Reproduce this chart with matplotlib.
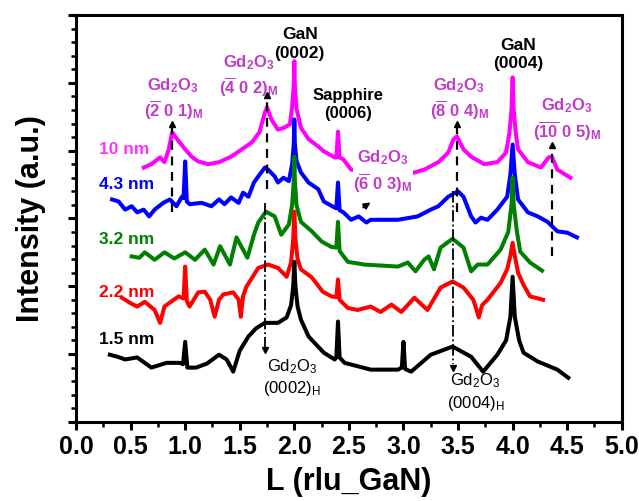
import numpy as np
import matplotlib
matplotlib.use('Agg')
import matplotlib.pyplot as plt

plt.rcParams['font.family'] = ['Liberation Sans', 'DejaVu Sans']
plt.rcParams['mathtext.default'] = 'regular'

# ---- data (L in rlu_GaN, intensity offset a.u.) ----
L_black = [0.31, 0.38, 0.45, 0.56, 0.69, 0.83, 0.95, 0.98, 1.00, 1.02, 1.10, 1.20, 1.31, 1.38,
           1.44, 1.50, 1.58, 1.65, 1.73, 1.85, 1.93, 1.97, 1.99, 2.00, 2.01, 2.03, 2.06, 2.13,
           2.27, 2.37, 2.385, 2.40, 2.415, 2.46, 2.70, 2.95, 2.985, 3.00, 3.015, 3.07, 3.25,
           3.45, 3.62, 3.73, 3.86, 3.94, 3.98, 4.00, 4.02, 4.06, 4.10, 4.23, 4.41, 4.51]
I_black = [0.99, 0.96, 0.92, 0.95, 0.80, 0.87, 0.87, 0.85, 1.18, 0.80, 0.80, 0.86, 0.99, 0.92,
           0.74, 1.05, 1.26, 1.38, 1.46, 1.46, 1.54, 1.72, 2.00, 2.36, 2.00, 1.70, 1.51, 1.26,
           1.02, 0.92, 0.95, 1.48, 0.95, 0.87, 0.77, 0.77, 0.80, 1.18, 0.78, 0.74, 0.99,
           1.11, 0.96, 0.74, 0.99, 1.20, 1.55, 2.14, 1.55, 1.20, 1.02, 0.89, 0.77, 0.65]

L_red = [0.42, 0.50, 0.56, 0.63, 0.72, 0.77, 0.81, 0.86, 0.94, 0.985, 1.00, 1.015, 1.04, 1.12,
         1.18, 1.23, 1.27, 1.31, 1.35, 1.44, 1.49, 1.51, 1.53, 1.56, 1.67, 1.76, 1.85, 1.93,
         1.97, 1.99, 2.00, 2.01, 2.03, 2.06, 2.16, 2.26, 2.34, 2.385, 2.40, 2.415, 2.49, 2.58,
         2.70, 2.79, 2.89, 2.98, 3.10, 3.22, 3.34, 3.45, 3.55, 3.64, 3.67, 3.69, 3.72, 3.77,
         3.89, 3.95, 3.98, 4.00, 4.02, 4.05, 4.10, 4.16, 4.28]
I_red = [1.83, 1.75, 1.70, 1.77, 1.65, 1.46, 1.70, 1.76, 1.85, 1.82, 2.29, 1.78, 1.70, 1.91,
         1.92, 1.80, 1.55, 1.80, 1.88, 1.91, 1.80, 1.55, 1.85, 1.99, 2.27, 2.32, 2.27, 2.14,
         2.35, 2.70, 3.10, 2.70, 2.40, 2.25, 2.13, 1.92, 1.85, 1.84, 2.10, 1.80, 1.68, 1.65,
         1.70, 1.62, 1.73, 1.62, 1.83, 1.65, 1.98, 2.07, 1.98, 1.80, 1.65, 1.54, 1.72, 1.80,
         2.05, 2.25, 2.45, 2.64, 2.45, 2.20, 2.02, 1.85, 1.80]

L_green = [0.51, 0.58, 0.63, 0.72, 0.81, 0.90, 1.00, 1.09, 1.18, 1.26, 1.32, 1.41, 1.47, 1.57,
           1.63, 1.67, 1.74, 1.82, 1.88, 1.95, 1.98, 1.995, 2.00, 2.005, 2.02, 2.06, 2.16, 2.25,
           2.34, 2.385, 2.40, 2.415, 2.49, 2.64, 2.95, 3.04, 3.11, 3.19, 3.23, 3.28, 3.34, 3.45,
           3.55, 3.62, 3.68, 3.77, 3.89, 3.96, 3.99, 4.00, 4.01, 4.04, 4.07, 4.16, 4.27]
I_green = [2.44, 2.42, 2.50, 2.39, 2.50, 2.41, 2.50, 2.39, 2.54, 2.32, 2.59, 2.32, 2.72, 2.42,
           2.76, 2.94, 3.10, 3.03, 2.76, 2.91, 3.20, 3.55, 3.91, 3.55, 3.20, 2.95, 2.81, 2.66,
           2.58, 2.57, 2.95, 2.52, 2.36, 2.32, 2.29, 2.35, 2.22, 2.39, 2.44, 2.25, 2.57, 2.70,
           2.57, 2.22, 2.32, 2.32, 2.54, 2.80, 3.20, 3.60, 3.20, 2.80, 2.51, 2.35, 2.23]

L_blue = [0.33, 0.39, 0.45, 0.51, 0.56, 0.62, 0.67, 0.72, 0.80, 0.86, 0.92, 0.97, 0.985, 1.00,
          1.015, 1.04, 1.15, 1.24, 1.31, 1.36, 1.42, 1.49, 1.53, 1.58, 1.63, 1.67, 1.73, 1.76,
          1.82, 1.85, 1.90, 1.95, 1.98, 1.995, 2.00, 2.005, 2.02, 2.06, 2.13, 2.22, 2.27, 2.37,
          2.385, 2.40, 2.415, 2.45, 2.52, 2.59, 2.66, 2.70, 2.95, 3.13, 3.25, 3.32, 3.41, 3.50,
          3.55, 3.62, 3.66, 3.71, 3.77, 3.86, 3.95, 3.98, 4.00, 4.02, 4.05, 4.14, 4.23, 4.32,
          4.41, 4.50, 4.59]
I_blue = [3.28, 3.25, 3.13, 3.18, 3.09, 3.13, 3.03, 3.13, 3.23, 3.28, 3.18, 3.32, 3.30, 3.84,
          3.25, 3.21, 3.23, 3.18, 3.28, 3.21, 3.31, 3.23, 3.38, 3.32, 3.53, 3.62, 3.75, 3.72,
          3.62, 3.53, 3.60, 3.55, 3.80, 4.10, 4.46, 4.10, 3.85, 3.68, 3.53, 3.43, 3.25, 3.16,
          3.15, 3.53, 3.12, 3.09, 2.98, 3.03, 2.94, 2.98, 2.98, 3.03, 3.13, 3.18, 3.32, 3.40,
          3.32, 3.03, 2.94, 3.01, 2.98, 3.13, 3.32, 3.65, 4.09, 3.65, 3.28, 3.09, 3.03, 2.95,
          2.81, 2.79, 2.72]

L_mag = [0.62, 0.69, 0.77, 0.81, 0.85, 0.88, 0.94, 1.00, 1.06, 1.12, 1.21, 1.31, 1.42, 1.52,
         1.61, 1.68, 1.73, 1.75, 1.79, 1.85, 1.91, 1.96, 1.98, 1.995, 2.00, 2.005, 2.02, 2.06,
         2.13, 2.22, 2.27, 2.37, 2.385, 2.40, 2.415, 2.45, 2.52, 2.65, 2.80, 3.04, 3.19, 3.32,
         3.41, 3.46, 3.49, 3.55, 3.62, 3.74, 3.86, 3.94, 3.97, 3.99, 4.00, 4.01, 4.03, 4.05,
         4.14, 4.26, 4.33, 4.36, 4.41, 4.53]
I_mag = [3.75, 3.80, 3.90, 3.83, 4.02, 4.27, 4.14, 4.02, 3.91, 3.84, 3.80, 3.83, 3.91, 4.02,
         4.12, 4.27, 4.56, 4.64, 4.46, 4.31, 4.34, 4.39, 4.65, 4.95, 5.32, 4.95, 4.62, 4.34,
         4.17, 4.06, 3.99, 3.90, 3.90, 4.28, 3.90, 3.87, 3.72, 3.70, 3.69, 3.65, 3.72, 3.83,
         3.97, 4.17, 4.21, 4.02, 3.91, 3.80, 3.83, 3.97, 4.25, 4.60, 5.08, 4.60, 4.25, 4.02,
         3.83, 3.75, 3.90, 3.91, 3.72, 3.60]

series = [(L_mag, I_mag, '#FF00FF'), (L_blue, I_blue, '#0000FF'), (L_green, I_green, '#008000'),
          (L_red, I_red, '#FF0000'), (L_black, I_black, 'black')]

thickness = ['10 nm', '4.3 nm', '3.2 nm', '2.2 nm', '1.5 nm']
thick_y = [4.02, 3.50, 2.69, 1.91, 1.21]
thick_col = ['#FF33FF', '#0000FF', '#008000', '#FF0000', 'black']

# dashed arrows (monoclinic peaks, pointing up) and dash-dot arrows (hexagonal, pointing down)
up_x = [0.88, 1.75, 3.49, 4.36]
up_y0 = [3.10, 3.43, 3.10, 2.44]
up_y1 = [4.40, 4.82, 4.39, 4.09]
down_x = [1.73, 3.45]
down_y0 = [3.23, 3.40]
down_y1 = [1.06, 0.80]

fig = plt.figure(figsize=(6.39, 5.01), dpi=100)
ax = fig.add_axes([0.119, 0.158, 0.854, 0.812])

for L, I, c in series:
    ax.plot(L, I, color=c, lw=2.9, solid_joinstyle='round', zorder=3)

for t, y, c in zip(thickness, thick_y, thick_col):
    ax.text(0.21, y, t, color=c, fontsize=12.5, fontweight='bold', va='center', ha='left')

for x, y0, y1 in zip(up_x, up_y0, up_y1):
    ax.plot([x, x], [y0, y1 - 0.05], color='k', lw=1.6, dashes=(4, 3), zorder=4)
    ax.plot(x, y1, marker='^', color='k', ms=5, zorder=4)
for x, y0, y1 in zip(down_x, down_y0, down_y1):
    ax.plot([x, x], [y0, y1 + 0.05], color='k', lw=1.3, linestyle='-.', zorder=4)
    ax.plot(x, y1, marker='v', color='k', ms=5, zorder=4)

ax.annotate('', xy=(2.72, 3.26), xytext=(2.61, 3.14),
            arrowprops=dict(arrowstyle='-|>', color='k', lw=1.5, mutation_scale=9))

pur = '#C03CC8'
kw = dict(ha='center', va='center', fontsize=12, fontweight='bold', linespacing=1.25)
ax.text(0.89, 4.76, 'Gd$_2$O$_3$\n($\\overline{2}$ 0 1)$_M$', color=pur, **kw)
ax.text(1.58, 5.10, 'Gd$_2$O$_3$\n($\\overline{4}$ 0 2)$_M$', color=pur, **kw)
ax.text(2.81, 3.69, 'Gd$_2$O$_3$\n($\\overline{6}$ 0 3)$_M$', color=pur, zorder=5,
        bbox=dict(fc='white', ec='none', pad=0.5), **kw)
ax.text(3.51, 4.76, 'Gd$_2$O$_3$\n($\\overline{8}$ 0 4)$_M$', color=pur, **kw)
ax.text(4.50, 4.46, 'Gd$_2$O$_3$\n($\\overline{10}$ 0 5)$_M$', color=pur, **kw)

ax.text(2.05, 5.57, 'GaN\n(0002)', color='k', ha='center', va='center', fontsize=12.5,
        fontweight='bold', linespacing=1.3)
ax.text(4.05, 5.42, 'GaN\n(0004)', color='k', ha='center', va='center', fontsize=12.5,
        fontweight='bold', linespacing=1.3)
ax.text(2.49, 4.68, 'Sapphire\n(0006)', color='k', ha='center', va='center', fontsize=12,
        fontweight='bold', linespacing=1.3)
ax.text(1.98, 0.65, 'Gd$_2$O$_3$\n(0002)$_H$', color='k', ha='center', va='center',
        fontsize=12, linespacing=1.25)
ax.text(3.66, 0.44, 'Gd$_2$O$_3$\n(0004)$_H$', color='k', ha='center', va='center',
        fontsize=12, linespacing=1.25)

ax.set_xlim(0, 5)
ax.set_ylim(0, 6)
ax.set_xticks(np.arange(0, 5.01, 0.5))
ax.set_xticks(np.arange(0, 5.01, 0.25), minor=True)
ax.set_yticks(np.arange(0, 6.01, 1))
ax.set_yticks(np.arange(0, 6.01, 0.2), minor=True)
ax.set_xticklabels([f'{v:.1f}' for v in np.arange(0, 5.01, 0.5)])
ax.set_yticklabels([])
for lab in ax.get_xticklabels():
    lab.set_fontweight('bold')
    lab.set_fontsize(18)
ax.tick_params(which='major', direction='out', length=6, width=2.2, top=False, right=False)
ax.tick_params(which='minor', direction='out', length=3.5, width=1.8, top=False, right=False)
for s in ax.spines.values():
    s.set_linewidth(2.2)

ax.set_xlabel('L (rlu_GaN)', fontsize=22, fontweight='bold', labelpad=6)
ax.set_ylabel('Intensity (a.u.)', fontsize=22, fontweight='bold', labelpad=12)

fig.savefig('out.png', dpi=100)
